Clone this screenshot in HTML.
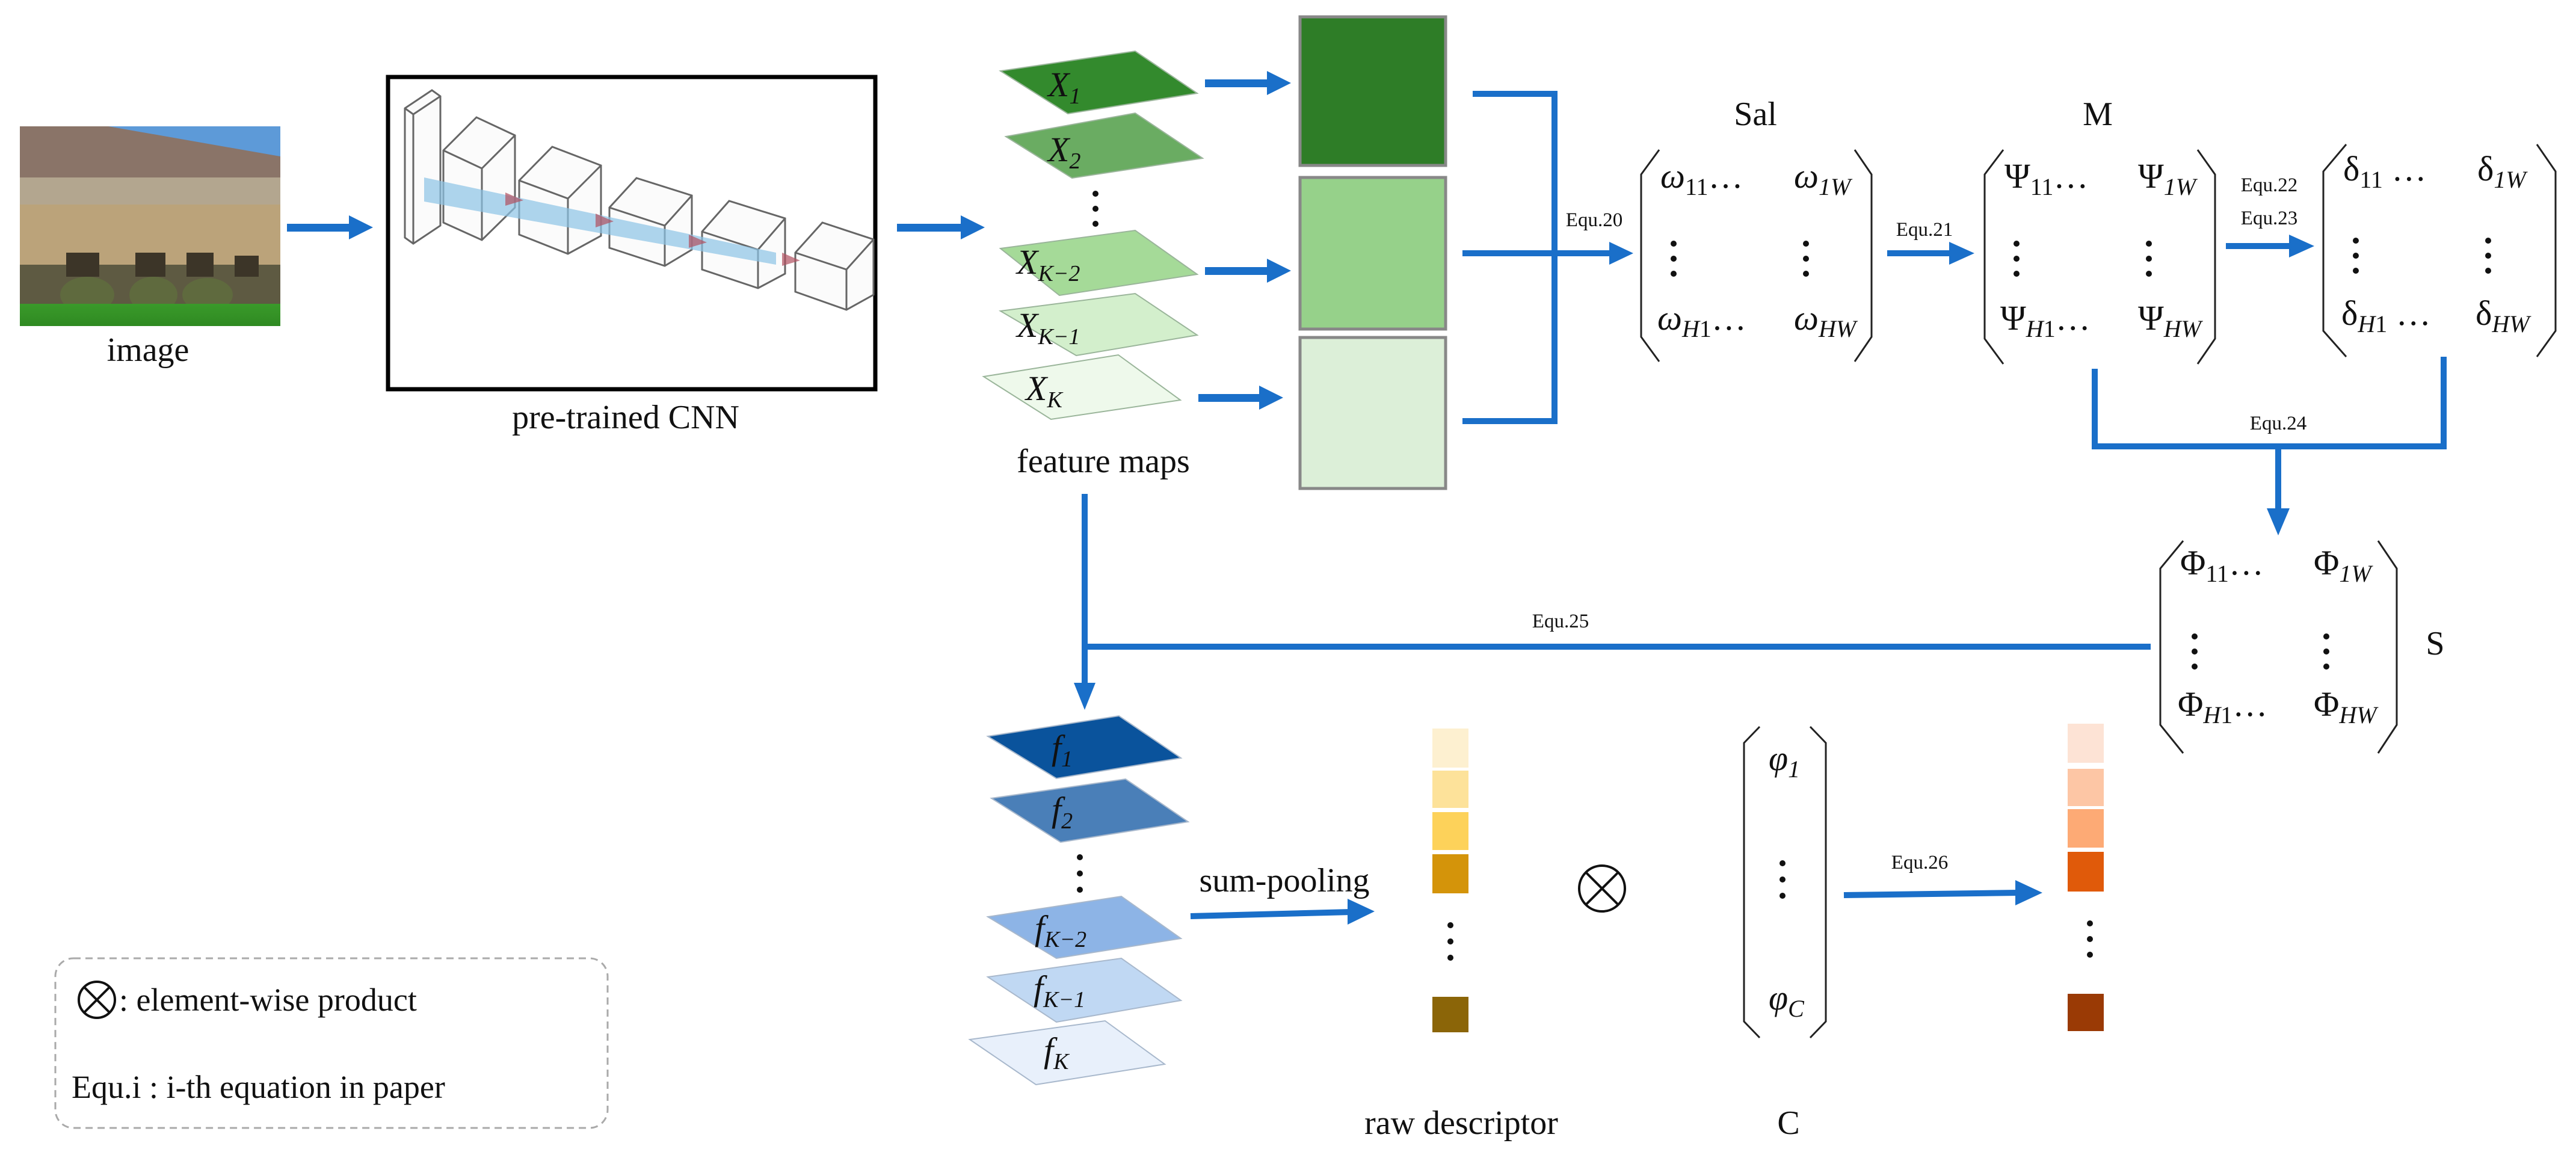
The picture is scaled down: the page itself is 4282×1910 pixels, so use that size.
<!DOCTYPE html>
<html><head><meta charset="utf-8"><style>
html,body{margin:0;padding:0;background:#fff}
svg{display:block}
text{font-family:"Liberation Serif",serif;fill:#111}
.it{font-style:italic}
</style></head><body>
<svg width="4282" height="1910" viewBox="0 0 4282 1910" xmlns="http://www.w3.org/2000/svg">
<defs>
<linearGradient id="grass" x1="0" y1="0" x2="0" y2="1"><stop offset="0" stop-color="#3a9a2a"/><stop offset="1" stop-color="#2f8a22"/></linearGradient>
</defs>
<!-- photo -->
<rect x="33" y="210" width="433" height="332" fill="#5d9ad8"/>
<polygon points="33,210 180,210 466,260 466,330 33,300" fill="#8a7468"/>
<rect x="33" y="295" width="433" height="60" fill="#b3a68f"/>
<rect x="33" y="340" width="433" height="110" fill="#bba37a"/>
<rect x="33" y="440" width="433" height="75" fill="#5e5a42"/>
<g fill="#3c3528"><rect x="110" y="420" width="55" height="40"/><rect x="225" y="420" width="50" height="40"/><rect x="310" y="420" width="45" height="40"/><rect x="390" y="425" width="40" height="35"/></g>
<g fill="#5f6a3e"><ellipse cx="145" cy="490" rx="45" ry="30"/><ellipse cx="255" cy="490" rx="40" ry="30"/><ellipse cx="345" cy="490" rx="42" ry="28"/></g>
<rect x="33" y="505" width="433" height="37" fill="url(#grass)"/>
<text x="246" y="600" font-size="56" text-anchor="middle">image</text>
<!-- arrows -->
<g fill="#1a6fc9">
<rect x="477" y="372" width="105" height="13"/><polygon points="580,358 620,378 580,398"/>
<rect x="1491" y="372" width="108" height="13"/><polygon points="1597,358 1637,378 1597,398"/>
<rect x="2003" y="132" width="105" height="13"/><polygon points="2106,118 2146,138 2106,158"/>
<rect x="2003" y="444" width="105" height="13"/><polygon points="2106,430 2146,450 2106,470"/>
<rect x="1992" y="655" width="103" height="13"/><polygon points="2093,641 2133,661 2093,681"/>
</g>
<!-- CNN box -->
<rect x="645" y="128" width="810" height="519" fill="none" stroke="#000" stroke-width="7"/>
<g fill="#f3f3f3" fill-opacity="0.35" stroke="#666" stroke-width="3">
<polygon points="673,180 718,150 732,160 732,375 687,405 673,395"/>
<path d="M673,180 L687,190 L732,160 M687,190 L687,405" fill="none"/>
<polygon points="737,250 792,195 856,225 856,345 801,399 737,370"/>
<path d="M737,250 L801,280 L856,225 M801,280 L801,399" fill="none"/>
<polygon points="863,300 918,244 999,275 999,392 944,422 863,390"/>
<path d="M863,300 L944,330 L999,275 M944,330 L944,422" fill="none"/>
<polygon points="1013,345 1058,296 1150,325 1150,415 1105,442 1013,412"/>
<path d="M1013,345 L1105,375 L1150,325 M1105,375 L1105,442" fill="none"/>
<polygon points="1167,385 1212,334 1305,363 1305,455 1260,479 1167,448"/>
<path d="M1167,385 L1260,415 L1305,363 M1260,415 L1260,479" fill="none"/>
<polygon points="1322,420 1367,370 1452,398 1452,490 1407,515 1322,485"/>
<path d="M1322,420 L1407,448 L1452,398 M1407,448 L1407,515" fill="none"/>
</g>
<g fill="#8cc3e6" fill-opacity="0.7">
<polygon points="705,295 1290,420 1290,440 705,335"/>
</g>
<g fill="#b05060" fill-opacity="0.7">
<polygon points="840,320 870,333 840,342"/><polygon points="990,355 1020,368 990,378"/><polygon points="1145,390 1175,403 1145,412"/><polygon points="1300,420 1330,433 1300,442"/>
</g>
<text x="1040" y="712" font-size="56" text-anchor="middle">pre-trained CNN</text>
<!-- feature maps -->
<g stroke="#9ab59a" stroke-width="2">
<polygon points="1663,118 1887,85 1990,155 1775,189" fill="#338a2d"/>
<polygon points="1672,227 1887,188 1999,263 1782,296" fill="#6aac62"/>
<polygon points="1663,413 1887,383 1990,456 1761,491" fill="#a5da98"/>
<polygon points="1663,517 1887,488 1990,557 1789,591" fill="#d3efcc"/>
<polygon points="1635,626 1859,590 1962,665 1747,697" fill="#eef9eb"/>
</g>
<g class="it" font-size="58">
<text x="1742" y="160" class="it">X<tspan font-size="38" dy="12">1</tspan></text>
<text x="1742" y="268" class="it">X<tspan font-size="38" dy="12">2</tspan></text>
<text x="1690" y="455" class="it">X<tspan font-size="38" dy="12">K−2</tspan></text>
<text x="1690" y="560" class="it">X<tspan font-size="38" dy="12">K−1</tspan></text>
<text x="1705" y="665" class="it">X<tspan font-size="38" dy="12">K</tspan></text>
</g>
<g fill="#111"><circle cx="1821" cy="322" r="5"/><circle cx="1821" cy="347" r="5"/><circle cx="1821" cy="372" r="5"/></g>
<text x="1834" y="785" font-size="56" text-anchor="middle">feature maps</text>
<!-- squares -->
<rect x="2161" y="28" width="242" height="247" fill="#2e7d27" stroke="#888" stroke-width="5"/>
<rect x="2161" y="295" width="242" height="252" fill="#96d18a" stroke="#888" stroke-width="5"/>
<rect x="2161" y="561" width="242" height="251" fill="#dcefd8" stroke="#888" stroke-width="5"/>
<!-- bracket -->
<g stroke="#1a6fc9" stroke-width="10" fill="none">
<polyline points="2448,156 2584,156 2584,700 2431,700"/>
<line x1="2431" y1="421" x2="2680" y2="421"/>
<line x1="3137" y1="421" x2="3245" y2="421"/>
<line x1="3700" y1="409" x2="3810" y2="409"/>
<polyline points="3482,613 3482,742 4062,742 4062,593"/>
<line x1="3787" y1="742" x2="3787" y2="850"/>
<line x1="3575" y1="1075" x2="1803" y2="1075"/>
<line x1="1803" y1="821" x2="1803" y2="1140"/>
<line x1="1979" y1="1523" x2="2245" y2="1516"/>
<line x1="3065" y1="1488" x2="3355" y2="1484"/>
</g>
<g fill="#1a6fc9">
<polygon points="2675,402 2715,421 2675,440"/>
<polygon points="3240,402 3282,421 3240,440"/>
<polygon points="3805,390 3847,409 3805,428"/>
<polygon points="3768,845 3806,845 3787,890"/>
<polygon points="1785,1135 1821,1135 1803,1180"/>
<polygon points="2240,1494 2285,1515 2240,1537"/>
<polygon points="3350,1463 3395,1484 3350,1505"/>
</g>
<g font-size="33">
<text x="2650" y="376" text-anchor="middle">Equ.20</text>
<text x="3199" y="392" text-anchor="middle">Equ.21</text>
<text x="3772" y="318" text-anchor="middle">Equ.22</text>
<text x="3772" y="373" text-anchor="middle">Equ.23</text>
<text x="3787" y="714" text-anchor="middle">Equ.24</text>
<text x="2594" y="1043" text-anchor="middle">Equ.25</text>
<text x="3191" y="1444" text-anchor="middle">Equ.26</text>
</g>
<text x="2918" y="208" font-size="56" text-anchor="middle">Sal</text>
<text x="3487" y="208" font-size="56" text-anchor="middle">M</text>
<text x="4048" y="1088" font-size="56" text-anchor="middle">S</text>
<!-- matrix brackets -->
<g stroke="#222" stroke-width="3" fill="none">
<path d="M2758,249 L2728,290 L2728,560 L2758,601"/><path d="M3083,249 L3111,290 L3111,560 L3083,601"/>
<path d="M3330,249 L3299,290 L3299,563 L3330,605"/><path d="M3653,249 L3682,290 L3682,563 L3653,605"/>
<path d="M3900,240 L3862,285 L3862,550 L3900,593"/><path d="M4217,240 L4248,285 L4248,550 L4217,593"/>
<path d="M3629,899 L3591,945 L3591,1205 L3629,1252"/><path d="M3953,899 L3984,945 L3984,1205 L3953,1252"/>
<path d="M2925,1208 L2899,1235 L2899,1698 L2925,1725"/><path d="M3009,1208 L3035,1235 L3035,1698 L3009,1725"/>
</g>
<g font-size="58">
<text x="2760" y="312"><tspan class="it">ω</tspan><tspan font-size="40" dy="12">11</tspan><tspan dy="-12">…</tspan></text>
<text x="2982" y="312"><tspan class="it">ω</tspan><tspan font-size="40" dy="12" class="it">1W</tspan></text>
<text x="2755" y="548"><tspan class="it">ω</tspan><tspan font-size="40" dy="12" class="it">H</tspan><tspan font-size="40">1</tspan><tspan dy="-12">…</tspan></text>
<text x="2982" y="548"><tspan class="it">ω</tspan><tspan font-size="40" dy="12" class="it">HW</tspan></text>
<text x="3332" y="312">Ψ<tspan font-size="40" dy="12">11</tspan><tspan dy="-12">…</tspan></text>
<text x="3554" y="312">Ψ<tspan font-size="40" dy="12" class="it">1W</tspan></text>
<text x="3325" y="548">Ψ<tspan font-size="40" dy="12" class="it">H</tspan><tspan font-size="40">1</tspan><tspan dy="-12">…</tspan></text>
<text x="3554" y="548">Ψ<tspan font-size="40" dy="12" class="it">HW</tspan></text>
<text x="3895" y="300">δ<tspan font-size="40" dy="12">11</tspan><tspan dy="-12"> …</tspan></text>
<text x="4118" y="300">δ<tspan font-size="40" dy="12" class="it">1W</tspan></text>
<text x="3892" y="540">δ<tspan font-size="40" dy="12" class="it">H</tspan><tspan font-size="40">1</tspan><tspan dy="-12"> …</tspan></text>
<text x="4115" y="540">δ<tspan font-size="40" dy="12" class="it">HW</tspan></text>
<text x="3624" y="955">Φ<tspan font-size="40" dy="12">11</tspan><tspan dy="-12">…</tspan></text>
<text x="3846" y="955">Φ<tspan font-size="40" dy="12" class="it">1W</tspan></text>
<text x="3620" y="1190">Φ<tspan font-size="40" dy="12" class="it">H</tspan><tspan font-size="40">1</tspan><tspan dy="-12">…</tspan></text>
<text x="3846" y="1190">Φ<tspan font-size="40" dy="12" class="it">HW</tspan></text>
<text x="2940" y="1280" class="it">φ<tspan font-size="40" dy="12">1</tspan></text>
<text x="2940" y="1678" class="it">φ<tspan font-size="40" dy="12">C</tspan></text>
</g>
<g fill="#111">
<circle cx="2782" cy="405" r="5"/><circle cx="2782" cy="430" r="5"/><circle cx="2782" cy="455" r="5"/>
<circle cx="3002" cy="405" r="5"/><circle cx="3002" cy="430" r="5"/><circle cx="3002" cy="455" r="5"/>
<circle cx="3352" cy="405" r="5"/><circle cx="3352" cy="430" r="5"/><circle cx="3352" cy="455" r="5"/>
<circle cx="3572" cy="405" r="5"/><circle cx="3572" cy="430" r="5"/><circle cx="3572" cy="455" r="5"/>
<circle cx="3916" cy="400" r="5"/><circle cx="3916" cy="425" r="5"/><circle cx="3916" cy="450" r="5"/>
<circle cx="4136" cy="400" r="5"/><circle cx="4136" cy="425" r="5"/><circle cx="4136" cy="450" r="5"/>
<circle cx="3648" cy="1058" r="5"/><circle cx="3648" cy="1083" r="5"/><circle cx="3648" cy="1108" r="5"/>
<circle cx="3867" cy="1058" r="5"/><circle cx="3867" cy="1083" r="5"/><circle cx="3867" cy="1108" r="5"/>
<circle cx="2963" cy="1435" r="5"/><circle cx="2963" cy="1462" r="5"/><circle cx="2963" cy="1489" r="5"/>
<circle cx="1795" cy="1425" r="5"/><circle cx="1795" cy="1452" r="5"/><circle cx="1795" cy="1479" r="5"/>
<circle cx="2411" cy="1538" r="5"/><circle cx="2411" cy="1565" r="5"/><circle cx="2411" cy="1592" r="5"/>
<circle cx="3474" cy="1535" r="5"/><circle cx="3474" cy="1561" r="5"/><circle cx="3474" cy="1587" r="5"/>
</g>
<!-- blue maps -->
<g stroke="#a8b8cc" stroke-width="2">
<polygon points="1642,1224 1860,1190 1963,1260 1756,1294" fill="#0a539c"/>
<polygon points="1648,1327 1871,1295 1975,1366 1763,1400" fill="#4a7fb8"/>
<polygon points="1642,1524 1864,1490 1963,1560 1756,1593" fill="#8db4e6"/>
<polygon points="1642,1624 1864,1593 1963,1663 1756,1699" fill="#c0d8f3"/>
<polygon points="1612,1728 1837,1697 1936,1769 1722,1803" fill="#e8f0fb"/>
</g>
<g font-size="58" class="it">
<text x="1748" y="1262" class="it">f<tspan font-size="38" dy="12">1</tspan></text>
<text x="1748" y="1365" class="it">f<tspan font-size="38" dy="12">2</tspan></text>
<text x="1720" y="1562" class="it">f<tspan font-size="38" dy="12">K−2</tspan></text>
<text x="1718" y="1662" class="it">f<tspan font-size="38" dy="12">K−1</tspan></text>
<text x="1735" y="1765" class="it">f<tspan font-size="38" dy="12">K</tspan></text>
</g>
<text x="2135" y="1482" font-size="56" text-anchor="middle">sum-pooling</text>
<!-- raw descriptor -->
<rect x="2381" y="1211" width="60" height="65" fill="#fdf0d0"/>
<rect x="2381" y="1281" width="60" height="62" fill="#fde29a"/>
<rect x="2381" y="1350" width="60" height="63" fill="#fdd25a"/>
<rect x="2381" y="1420" width="60" height="65" fill="#d4940a"/>
<rect x="2381" y="1657" width="60" height="59" fill="#8b6508"/>
<rect x="3437" y="1203" width="60" height="65" fill="#fde3d5"/>
<rect x="3437" y="1278" width="60" height="62" fill="#fdc6a5"/>
<rect x="3437" y="1345" width="60" height="64" fill="#fdaa75"/>
<rect x="3437" y="1416" width="60" height="66" fill="#e05a0a"/>
<rect x="3437" y="1652" width="60" height="62" fill="#9a3a05"/>
<!-- otimes -->
<g stroke="#111" stroke-width="4" fill="none">
<circle cx="2663" cy="1477" r="38"/><line x1="2636" y1="1450" x2="2690" y2="1504"/><line x1="2690" y1="1450" x2="2636" y2="1504"/>
<circle cx="161" cy="1662" r="30"/><line x1="140" y1="1641" x2="182" y2="1683"/><line x1="182" y1="1641" x2="140" y2="1683"/>
</g>
<text x="2429" y="1885" font-size="56" text-anchor="middle">raw descriptor</text>
<text x="2973" y="1885" font-size="56" text-anchor="middle">C</text>
<!-- legend -->
<rect x="92" y="1593" width="918" height="282" rx="30" fill="none" stroke="#aaa" stroke-width="3" stroke-dasharray="12,8"/>
<text x="198" y="1680" font-size="54">: element-wise product</text>
<text x="119" y="1825" font-size="54">Equ.i :  i-th equation in paper</text>
</svg>
</body></html>
